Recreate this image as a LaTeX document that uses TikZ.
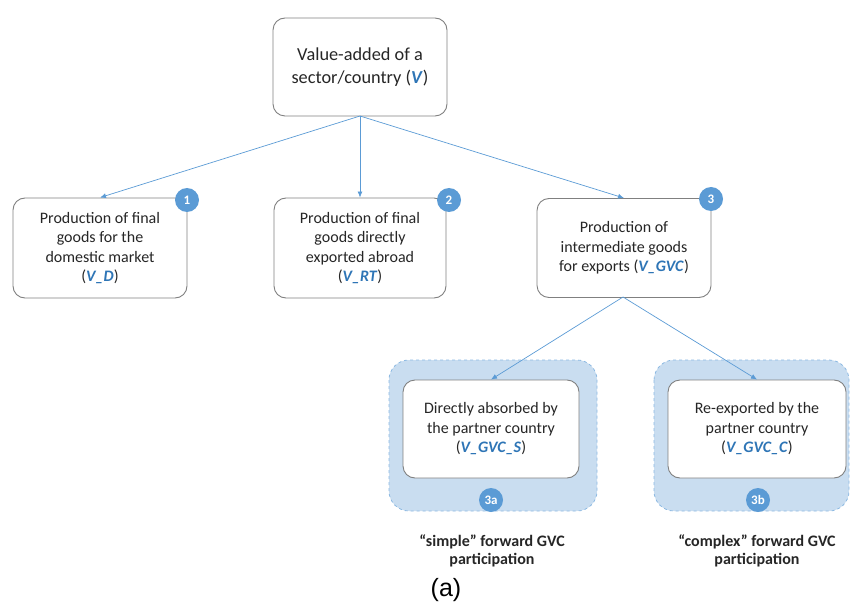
\documentclass[tikz,border=0pt]{standalone}
\usepackage{fontspec}
\setmainfont{Carlito}
\newfontfamily\arialfont{Liberation Sans}
\usetikzlibrary{arrows.meta}
\definecolor{accent}{HTML}{5B9BD5}
\definecolor{vblue}{HTML}{2E75B6}
\definecolor{regfill}{HTML}{C9DDF0}
\definecolor{boxline}{HTML}{808080}
\definecolor{txt}{HTML}{262626}
\newcommand{\vv}[1]{\textcolor{vblue}{\textbf{\textit{#1}}}}
\tikzset{
  box/.style={draw=boxline, line width=0.9pt, rounded corners=12pt, fill=white, align=center, text=txt, font=\fontsize{16}{19.5}\selectfont, inner sep=0pt},
  badge/.style={circle, fill=accent, text=white, font=\fontsize{13}{14}\selectfont\bfseries, minimum size=24pt, inner sep=0pt},
  region/.style={draw=accent!70, dashed, line width=0.8pt, fill=regfill, rounded corners=20pt},
  conn/.style={draw=accent, line width=0.7pt, -{Latex[length=6pt,width=5pt]}},
  lbl/.style={align=center, text=txt, font=\fontsize{16}{18.5}\selectfont\bfseries}
}
\begin{document}
\begin{tikzpicture}[x=1pt,y=-1pt]
\useasboundingbox (0,0) rectangle (850,612);
% regions
\path[region] (389,360) rectangle (597,511);
\path[region] (654,360) rectangle (849,511);
% nodes
\node[box, minimum width=174pt, minimum height=98pt, font=\fontsize{18.3}{22.5}\selectfont] (top) at (360,67) {Value-added of a\\sector/country (\vv{V})};
\node[box, minimum width=174pt, minimum height=100pt] (b1) at (100,248) {Production of final\\goods for the\\domestic market\\(\vv{V\_D})};
\node[box, minimum width=172pt, minimum height=100pt] (b2) at (360,248) {Production of final\\goods directly\\exported abroad\\(\vv{V\_RT})};
\node[box, minimum width=174pt, minimum height=99pt] (b3) at (624,248) {Production of\\intermediate goods\\for exports (\vv{V\_GVC})};
\node[box, minimum width=176pt, minimum height=98pt] (b3a) at (491,429) {Directly absorbed by\\the partner country\\(\vv{V\_GVC\_S})};
\node[box, minimum width=178pt, minimum height=98pt] (b3b) at (757,429) {Re-exported by the\\partner country\\(\vv{V\_GVC\_C})};
% badges
\node[badge] (n1) at (187,200) {1};
\node[badge] (n2) at (449,200) {2};
\node[badge] (n3) at (711,199) {3};
\node[badge] (n3a) at (491,500) {3a};
\node[badge] (n3b) at (758,500) {3b};
% connectors
\coordinate (ts) at (360,116);
\coordinate (bs) at (623,297);
\draw[conn] (ts) -- (b1.north);
\draw[conn] (ts) -- (b2.north);
\draw[conn] (ts) -- (b3.north);
\draw[conn] (bs) -- (b3a.north);
\draw[conn] (bs) -- (b3b.north);
% labels
\node[lbl] (l1) at (492,551) {“simple” forward GVC\\participation};
\node[lbl] (l2) at (757,551) {“complex” forward GVC\\participation};
\node[text=black, font=\arialfont\fontsize{25}{28}\selectfont] (cap) at (446,590) {(a)};
\end{tikzpicture}
\end{document}
